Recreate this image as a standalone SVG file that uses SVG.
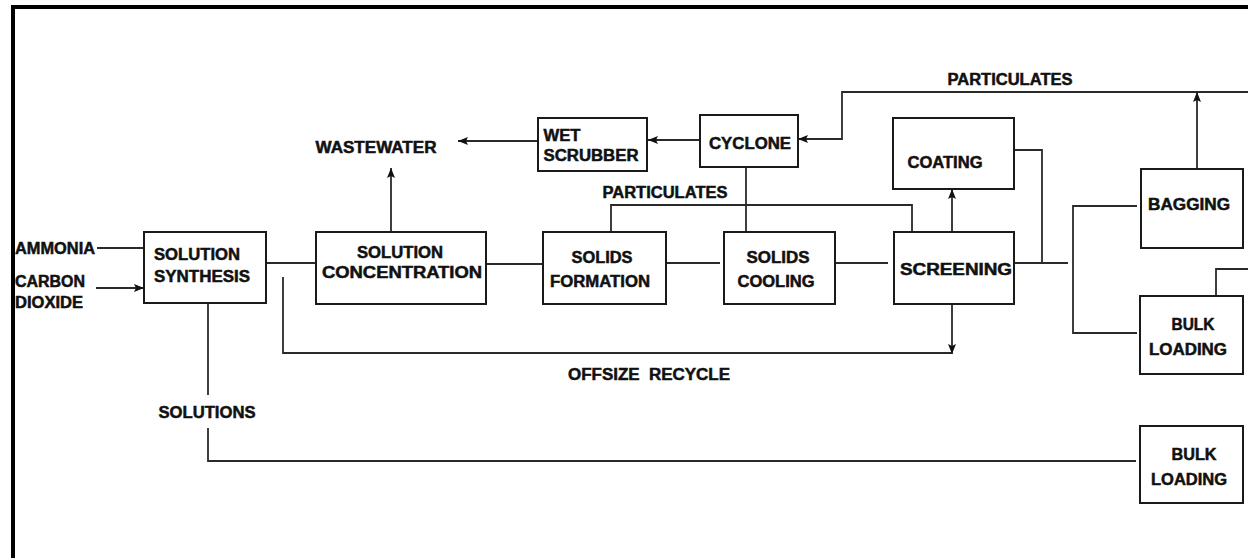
<svg xmlns="http://www.w3.org/2000/svg" width="1248" height="558" viewBox="0 0 1248 558">
<style>
  .box{fill:#fff;stroke:#1a1a1a;stroke-width:2}
  .ln{fill:none;stroke:#2a2a2a;stroke-width:1.8}
  .t{font-family:"Liberation Sans",Arial,sans-serif;font-weight:bold;font-size:16px;fill:#111;stroke:#111;stroke-width:0.5;text-anchor:middle}
</style>
<defs>
  <marker id="ah" viewBox="0 0 10 10" refX="10" refY="5" markerWidth="10" markerHeight="10" markerUnits="userSpaceOnUse" orient="auto">
    <path d="M0,1 L10,5 L0,9 L2,5 Z" fill="#111"/>
  </marker>
</defs>
<rect x="0" y="0" width="1248" height="558" fill="#fff"/>
<path d="M13,560 V7 H1250" fill="none" stroke="#000" stroke-width="4"/>

<g id="connectors">
  <path class="ln" d="M97,248 H144"/>
  <path class="ln" d="M96,288 H144" marker-end="url(#ah)"/>
  <path class="ln" d="M266,263 H316"/>
  <path class="ln" d="M283,277 V353 H952"/>
  <path class="ln" d="M952,304 V354" marker-end="url(#ah)"/>
  <path class="ln" d="M208,303 V395"/>
  <path class="ln" d="M208,428 V461 H1136"/>
  <path class="ln" d="M486,264 H543"/>
  <path class="ln" d="M663,263 H720"/>
  <path class="ln" d="M833,263 H888"/>
  <path class="ln" d="M391,232 V168" marker-end="url(#ah)"/>
  <path class="ln" d="M538,141 H458" marker-end="url(#ah)"/>
  <path class="ln" d="M700,140 H648" marker-end="url(#ah)"/>
  <path class="ln" d="M1250,92 H842 V139 H798" marker-end="url(#ah)"/>
  <path class="ln" d="M746,167 V232"/>
  <path class="ln" d="M611,232 V205 H912 V232"/>
  <path class="ln" d="M952,232 V189" marker-end="url(#ah)"/>
  <path class="ln" d="M1013,150 H1042 V263"/>
  <path class="ln" d="M1012,263 H1068"/>
  <path class="ln" d="M1137,206 H1073 V333 H1137"/>
  <path class="ln" d="M1197,169 V92" marker-end="url(#ah)"/>
  <path class="ln" d="M1216,296 V269 H1250"/>
</g>

<g id="labels">
  <text class="t" x="55" y="254" textLength="80" lengthAdjust="spacingAndGlyphs">AMMONIA</text>
  <text class="t" x="50" y="287" textLength="70" lengthAdjust="spacingAndGlyphs">CARBON</text>
  <text class="t" x="49" y="308" textLength="68" lengthAdjust="spacingAndGlyphs">DIOXIDE</text>
  <text class="t" x="376" y="153" textLength="121" lengthAdjust="spacingAndGlyphs">WASTEWATER</text>
  <text class="t" x="665" y="198" textLength="125" lengthAdjust="spacingAndGlyphs">PARTICULATES</text>
  <text class="t" x="1010" y="85" textLength="125" lengthAdjust="spacingAndGlyphs">PARTICULATES</text>
  <text class="t" x="649" y="380" textLength="162" lengthAdjust="spacingAndGlyphs" xml:space="preserve">OFFSIZE  RECYCLE</text>
  <text class="t" x="207" y="418" textLength="97" lengthAdjust="spacingAndGlyphs">SOLUTIONS</text>
</g>

<g id="solution-synthesis">
  <rect class="box" x="144" y="232" width="122" height="71"/>
  <text class="t" x="197" y="260" textLength="86" lengthAdjust="spacingAndGlyphs">SOLUTION</text>
  <text class="t" x="202" y="282" textLength="96" lengthAdjust="spacingAndGlyphs">SYNTHESIS</text>
</g>
<g id="solution-concentration">
  <rect class="box" x="316" y="232" width="170" height="72"/>
  <text class="t" x="400" y="258" textLength="86" lengthAdjust="spacingAndGlyphs">SOLUTION</text>
  <text class="t" x="402" y="278" textLength="160" lengthAdjust="spacingAndGlyphs">CONCENTRATION</text>
</g>
<g id="solids-formation">
  <rect class="box" x="543" y="232" width="123" height="72"/>
  <text class="t" x="602" y="263" textLength="61" lengthAdjust="spacingAndGlyphs">SOLIDS</text>
  <text class="t" x="600" y="287" textLength="100" lengthAdjust="spacingAndGlyphs">FORMATION</text>
</g>
<g id="solids-cooling">
  <rect class="box" x="724" y="232" width="111" height="72"/>
  <text class="t" x="778" y="263" textLength="63" lengthAdjust="spacingAndGlyphs">SOLIDS</text>
  <text class="t" x="776" y="287" textLength="77" lengthAdjust="spacingAndGlyphs">COOLING</text>
</g>
<g id="screening">
  <rect class="box" x="894" y="232" width="120" height="72"/>
  <text class="t" x="956" y="275" textLength="112" lengthAdjust="spacingAndGlyphs">SCREENING</text>
</g>
<g id="wet-scrubber">
  <rect class="box" x="538" y="118" width="109" height="53"/>
  <text class="t" x="562" y="141" textLength="37" lengthAdjust="spacingAndGlyphs">WET</text>
  <text class="t" x="591" y="161" textLength="95" lengthAdjust="spacingAndGlyphs">SCRUBBER</text>
</g>
<g id="cyclone">
  <rect class="box" x="700" y="115" width="98" height="52"/>
  <text class="t" x="750" y="149" textLength="82" lengthAdjust="spacingAndGlyphs">CYCLONE</text>
</g>
<g id="coating">
  <rect class="box" x="893" y="118" width="121" height="71"/>
  <text class="t" x="945" y="168" textLength="75" lengthAdjust="spacingAndGlyphs">COATING</text>
</g>
<g id="bagging">
  <rect class="box" x="1141" y="169" width="102" height="79"/>
  <text class="t" x="1189" y="210" textLength="82" lengthAdjust="spacingAndGlyphs">BAGGING</text>
</g>
<g id="bulk-loading-1">
  <rect class="box" x="1140" y="296" width="103" height="78"/>
  <text class="t" x="1193" y="330" textLength="43" lengthAdjust="spacingAndGlyphs">BULK</text>
  <text class="t" x="1188" y="355" textLength="78" lengthAdjust="spacingAndGlyphs">LOADING</text>
</g>
<g id="bulk-loading-2">
  <rect class="box" x="1140" y="426" width="103" height="77"/>
  <text class="t" x="1194" y="460" textLength="45" lengthAdjust="spacingAndGlyphs">BULK</text>
  <text class="t" x="1189" y="485" textLength="76" lengthAdjust="spacingAndGlyphs">LOADING</text>
</g>
</svg>
